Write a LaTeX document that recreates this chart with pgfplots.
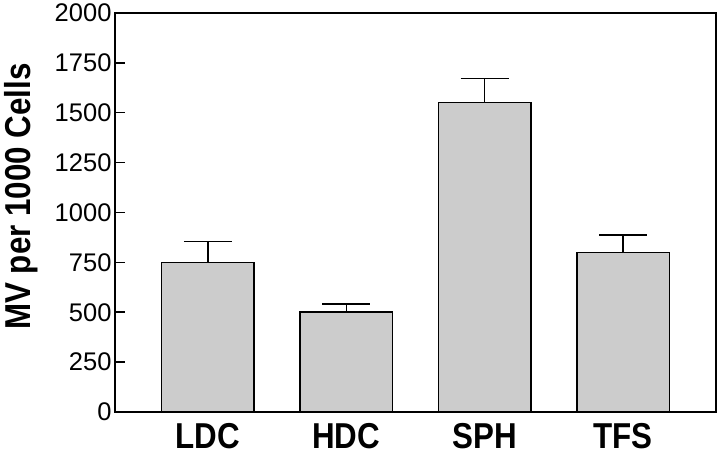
\documentclass[border=0pt]{standalone}
\usepackage{pgfplots}
\pgfplotsset{compat=1.18}
\usepackage{fontspec}
\setmainfont{Liberation Sans}
\newfontfamily\labelfont[FakeStretch=0.87]{Liberation Sans}

\begin{document}
\begin{tikzpicture}
\begin{axis}[
	scale only axis,
	width=601pt, height=399pt,
	xmin=-0.67, xmax=3.67,
	ymin=0, ymax=2000,
	ytick={0,250,...,2000},
	xtick=data,
	xticklabels={LDC,HDC,SPH,TFS},
	xtick style={draw=none},
	ytick pos=left,
	tick align=inside,
	major tick length=10pt,
	tick style={line width=1.5pt, black},
	axis line style={line width=1.5pt},
	/pgf/number format/assume math mode=true,
	/pgf/number format/1000 sep={},
	y tick label style={font=\fontsize{25.5}{25.5}\selectfont},
	x tick label style={font=\fontsize{36}{36}\selectfont\labelfont\bfseries, yshift=-8pt},
	ylabel={MV per 1000 Cells},
	ylabel style={font=\fontsize{36}{36}\selectfont\labelfont\bfseries, at={(ticklabel cs:0.54,10pt)}},
]
% mean values, upper error bars only
\addplot[ybar, bar width=0.667, fill=black!20, draw=black, line width=1.5pt,
	error bars/.cd, y dir=plus, y explicit,
	error bar style={line width=1.5pt},
	error mark options={rotate=90, mark size=24pt, line width=1.5pt}]
	coordinates {(0,750) +- (0,105) (1,500) +- (0,42) (2,1552) +- (0,120) (3,800) +- (0,86)};
\end{axis}
\pgfresetboundingbox
\useasboundingbox ([shift={(-115pt,-45pt)}]current axis.south west) rectangle ([shift={(2pt,13pt)}]current axis.north east);
\end{tikzpicture}
\end{document}
